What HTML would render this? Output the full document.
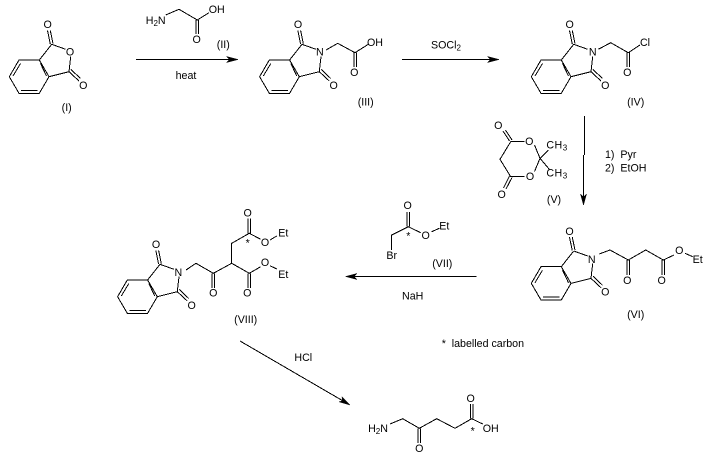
<!DOCTYPE html>
<html><head><meta charset="utf-8"><style>
html,body{margin:0;padding:0;background:#fff;width:708px;height:460px;overflow:hidden}
svg{display:block}
line,polyline,polygon.b{stroke:#000;stroke-width:1;fill:none;shape-rendering:crispEdges}
polygon.a{fill:#000;stroke:#000;stroke-width:.5}
text{font-family:"Liberation Sans",Arial,sans-serif;font-size:10.67px;fill:#000;text-anchor:middle}
text.l{text-anchor:start}
tspan.s{font-size:8px}
</style></head><body>
<svg width="708" height="460" viewBox="0 0 708 460" xmlns="http://www.w3.org/2000/svg">
<defs>
<g id="ph">
<polygon class="b" points="19,60 39.3,60 49,76.7 39.3,93.3 19,93.3 9.3,76.7"/>
<line x1="13" y1="76" x2="20.5" y2="63.5"/><line x1="40.5" y1="63.5" x2="46.5" y2="76"/><line x1="21" y1="90.3" x2="37.5" y2="90.3"/>
<line x1="39.3" y1="60" x2="51.7" y2="44.3"/><line x1="49" y1="76.7" x2="69" y2="71.7"/>
<line x1="51.7" y1="44.3" x2="65.7" y2="49.3"/><line x1="70.7" y1="56.7" x2="69" y2="71.7"/>
<line x1="50.3" y1="44" x2="47.5" y2="30.5"/><line x1="53" y1="43.5" x2="50.3" y2="30.5"/>
<line x1="69" y1="71.7" x2="79" y2="81"/><line x1="71" y1="69.5" x2="80.5" y2="78.5"/>
</g>
</defs>

<!-- I -->
<use href="#ph"/>
<text x="47.7" y="28">O</text><text x="70" y="55.5">O</text><text x="83.3" y="89">O</text>
<text x="66.7" y="111">(I)</text>

<!-- II -->
<text x="155.7" y="24">H<tspan class="s" dy="2">2</tspan><tspan dy="-2">N</tspan></text>
<polyline points="165.7,15 179,9.3 197.3,20 209,12.7"/>
<line x1="196" y1="20" x2="196" y2="34"/><line x1="198.5" y1="20" x2="198.5" y2="34"/>
<text x="196.7" y="43">O</text><text x="216.7" y="13">OH</text><text x="223.3" y="48">(II)</text>

<!-- arrow I to III -->
<line x1="136" y1="59.5" x2="232" y2="59.5"/>
<polygon class="a" points="238,59.5 226.5,56.5 229.5,59.5 226.5,62.5"/>
<text x="186" y="79">heat</text>

<!-- III -->
<use href="#ph" x="250.3"/>
<text x="298" y="28">O</text><text x="319.8" y="55.5">N</text><text x="333.6" y="89">O</text>
<polyline points="326,50 337.7,43.3 355,52.7 368.3,44.3"/>
<line x1="354" y1="52.7" x2="354" y2="67"/><line x1="356.5" y1="52.7" x2="356.5" y2="67"/>
<text x="354.3" y="76">O</text><text x="375" y="46">OH</text><text x="365.7" y="105.5">(III)</text>

<!-- arrow III to IV -->
<line x1="402" y1="59.5" x2="493" y2="59.5"/>
<polygon class="a" points="499,59.5 487.5,56.5 490.5,59.5 487.5,62.5"/>
<text x="446" y="48.5">SOCl<tspan class="s" dy="2">2</tspan></text>

<!-- IV -->
<use href="#ph" x="522"/>
<text x="569.7" y="28">O</text><text x="592.7" y="55.5">N</text><text x="605.3" y="89">O</text>
<polyline points="598.3,49.3 610.7,42.7 628.3,52.7 640,45"/>
<line x1="627" y1="52.7" x2="627" y2="67"/><line x1="629.5" y1="52.7" x2="629.5" y2="67"/>
<text x="627.3" y="76">O</text><text x="645" y="46">Cl</text><text x="635.7" y="105.5">(IV)</text>

<!-- V -->
<text x="498.3" y="129">O</text><text x="529.3" y="145">O</text><text x="530" y="180">O</text><text x="501.7" y="198">O</text>
<polyline points="524.3,141.7 510.7,141.7 500,159.3 510.7,176.7 524.3,176.7"/>
<line x1="509.5" y1="141" x2="503" y2="131"/><line x1="512" y1="140" x2="505.5" y2="130"/>
<line x1="509.5" y1="176" x2="503.5" y2="188"/><line x1="512" y1="177.5" x2="506" y2="189"/>
<polyline points="534.5,145 540,158.3 534.5,171.5"/>
<line x1="540" y1="158.3" x2="548.3" y2="150"/><line x1="540" y1="158.3" x2="549.3" y2="169.3"/>
<text x="557" y="148.5" style="letter-spacing:.5px">CH<tspan class="s" dy="2">3</tspan></text>
<text x="557" y="176.5" style="letter-spacing:.5px">CH<tspan class="s" dy="2">3</tspan></text>
<text x="554" y="203">(V)</text>

<!-- arrow IV to VI -->
<line x1="584.5" y1="116" x2="584.5" y2="155"/><line x1="583.5" y1="155" x2="583.5" y2="199"/>
<polygon class="a" points="583.5,205 580.5,194 583.5,197 586.5,194"/>
<text class="l" x="605" y="158">1)&#160;&#160;Pyr</text>
<text class="l" x="605" y="171.5">2)&#160;&#160;EtOH</text>

<!-- VI -->
<use href="#ph" x="522" y="206.7"/>
<text x="569.5" y="235">O</text><text x="591.7" y="263">N</text><text x="605.3" y="295.5">O</text>
<polyline points="599.3,254 610,250 628.3,260 645.7,250 663.3,260 674,255"/>
<line x1="627" y1="260" x2="627" y2="275"/><line x1="629.5" y1="260" x2="629.5" y2="275"/>
<line x1="662" y1="260" x2="662" y2="275"/><line x1="664.5" y1="260" x2="664.5" y2="275"/>
<line x1="685" y1="253.3" x2="692.7" y2="256.7"/>
<text x="627.3" y="284">O</text><text x="661.7" y="284">O</text><text x="679.3" y="254">O</text><text x="697.7" y="263">Et</text>
<text x="635.7" y="318">(VI)</text>

<!-- VII -->
<text x="407.7" y="209">O</text>
<line x1="407" y1="226.7" x2="407" y2="212"/><line x1="409.5" y1="226.7" x2="409.5" y2="212"/>
<polyline points="391.7,250 391.7,235 408.3,226.7 420.7,232.7"/>
<line x1="431.7" y1="231.7" x2="439.3" y2="228.3"/>
<text x="391.7" y="259">Br</text><text x="425.7" y="239">O</text><text x="444.3" y="229.5">Et</text>
<text x="408.3" y="239.5">*</text><text x="442.3" y="267">(VII)</text>

<!-- arrow VI to VIII -->
<line x1="352" y1="276.5" x2="476.7" y2="276.5"/>
<polygon class="a" points="345.7,276.5 357,273.5 354,276.5 357,279.5"/>
<text x="412.7" y="299.5">NaH</text>

<!-- VIII -->
<use href="#ph" x="108.3" y="220"/>
<text x="156" y="248">O</text><text x="178.3" y="276">N</text><text x="191.6" y="309">O</text>
<polyline points="186,270 196,263.3 213.3,273.3 231.7,263.3 249.3,273.3 260.7,266.7"/>
<polyline points="231.7,263.3 231.7,243.3 249.3,233.3 260.7,239.3"/>
<line x1="212" y1="273.3" x2="212" y2="288"/><line x1="214.5" y1="273.3" x2="214.5" y2="288"/>
<line x1="248" y1="273.3" x2="248" y2="288"/><line x1="250.5" y1="273.3" x2="250.5" y2="288"/>
<line x1="248" y1="233.3" x2="248" y2="218.3"/><line x1="250.5" y1="233.3" x2="250.5" y2="218.3"/>
<line x1="270" y1="265.7" x2="276.7" y2="269"/><line x1="270" y1="240" x2="276.7" y2="236"/>
<text x="213.3" y="296.5">O</text><text x="247.3" y="296.5">O</text><text x="247.7" y="216.5">O</text>
<text x="265" y="246">O</text><text x="265" y="266">O</text>
<text x="283.3" y="236.5">Et</text><text x="283.3" y="278">Et</text>
<text x="247.7" y="246.5">*</text><text x="245.7" y="323">(VIII)</text>

<!-- HCl arrow -->
<line x1="240" y1="341" x2="344" y2="401.5"/>
<polygon class="a" points="350,405 339,401.8 342.5,401 342,396.8"/>
<text x="303.3" y="361">HCl</text>
<text class="l" x="441.7" y="347">*&#160;&#160;labelled carbon</text>

<!-- product -->
<text x="378" y="432">H<tspan class="s" dy="2">2</tspan><tspan dy="-2">N</tspan></text>
<polyline points="390,424 402.7,418.7 419.3,428.3 436.7,418.7 455,428.3 471.7,418.7 482.7,424"/>
<line x1="418" y1="428.3" x2="418" y2="443"/><line x1="420.5" y1="428.3" x2="420.5" y2="443"/>
<line x1="470.5" y1="418.7" x2="470.5" y2="404"/><line x1="473" y1="418.7" x2="473" y2="404"/>
<text x="419.3" y="452">O</text><text x="470.7" y="402">O</text><text x="490.7" y="432">OH</text>
<text x="472.7" y="434.5">*</text>
</svg>
</body></html>
